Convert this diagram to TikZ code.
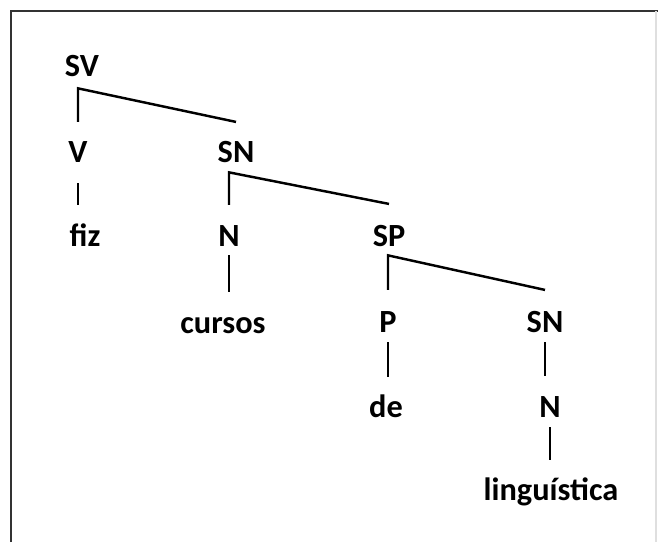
\documentclass[tikz,border=0pt]{standalone}
\usepackage{fontspec}
\setmainfont{Carlito}
\tikzset{
  cat/.style={font=\fontsize{18.4pt}{22pt}\selectfont\bfseries, inner sep=0pt, anchor=base, text height=11.8pt, text depth=0pt},
  ramo/.style={line width=1.4pt, line join=miter},
}
\begin{document}
\begin{tikzpicture}[x=0.02cm,y=-0.02cm]
        \useasboundingbox (0,0) rectangle (658,542);
        % cornice
        \draw[black!80,line width=1.6pt] (11,542) -- (11,11) -- (658,11);
        \draw[gray!25,line width=1pt] (656,11) -- (656,542);

        \node[cat] (sv) at (82,76) {SV};
        \node[cat] (v) at (78,162) {V};
        \node[cat] (sn) at (236,162) {SN};
        \node[cat] (fiz) at (85,246) {fiz};
        \node[cat] (n) at (229,246) {N};
        \node[cat] (sp) at (389,246) {SP};
        \node[cat] (cursos) at (223,333) {cursos};
        \node[cat] (p) at (388,332) {P};
        \node[cat] (sn2) at (545,332) {SN};
        \node[cat] (de) at (386,417) {de};
        \node[cat] (n2) at (550,417) {N};
        \node[cat] (ling) at (551,500) {linguística};

        % rami
        \coordinate (sv-c) at ([yshift=-0.24cm]sv.south -| v.north);
        \draw[ramo] ([yshift=0.38cm]v.north) -- (sv-c) -- ([yshift=0.38cm]sn.north);
        \coordinate (sn-c) at ([yshift=-0.2cm]sn.south -| n.north);
        \draw[ramo] ([yshift=0.4cm]n.north) -- (sn-c) -- ([yshift=0.42cm]sp.north);
        \coordinate (sp-c) at ([yshift=-0.18cm]sp.south -| p.north);
        \draw[ramo] ([yshift=0.42cm]p.north) -- (sp-c) -- ([yshift=0.42cm]sn2.north);

        \draw[ramo] ([yshift=-0.42cm]v.south) -- ([yshift=0.4cm]v.south |- fiz.north);
        \draw[ramo] ([yshift=-0.18cm]n.south) -- ([yshift=0.4cm]n.south |- cursos.north);
        \draw[ramo] ([yshift=-0.2cm]p.south) -- ([yshift=0.38cm]p.south |- de.north);
        \draw[ramo] ([yshift=-0.2cm]sn2.south) -- ([yshift=0.4cm]sn2.south |- n2.north);
        \draw[ramo] ([yshift=-0.2cm]n2.south) -- ([yshift=0.38cm]n2.south |- ling.north);
\end{tikzpicture}
\end{document}
